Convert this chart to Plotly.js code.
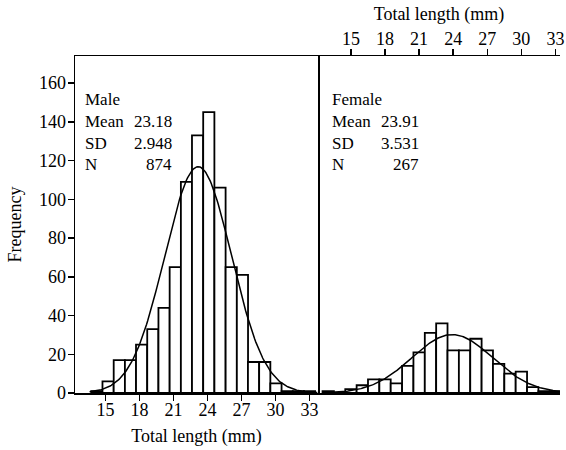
<!DOCTYPE html>
<html>
<head>
<meta charset="utf-8">
<script src="https://cdn.plot.ly/plotly-3.0.1.min.js"></script>
<style>html,body{margin:0;padding:0;background:#fff;}#chart{width:566px;height:450px;}</style>
</head>
<body>
<div id="chart"></div>
<script>
// ---- Data ----
var maleBins = [14.24, 15.23, 16.22, 17.21, 18.19, 19.18, 20.17, 21.16, 22.15, 23.13,
                24.12, 25.11, 26.10, 27.09, 28.07, 29.06, 30.05, 31.04, 32.03, 33.01];
var maleCounts = [1, 6, 17, 17, 25, 33, 44, 65, 109, 133, 145, 106, 65, 61, 16, 16, 5, 1, 1, 1];
var maleBinWidth = 0.988;
var maleStats = {mean: 23.18, sd: 2.948, n: 874};

var femaleBins = [13, 14, 15, 16, 17, 18, 19, 20, 21, 22, 23, 24, 25, 26, 27, 28, 29, 30, 31, 32, 33];
var femaleCounts = [1, 0, 2, 4, 7, 7, 5, 14, 21, 31, 36, 22, 22, 28, 22, 15, 10, 11, 3, 1, 1];
var femaleBinWidth = 1.0;
var femaleStats = {mean: 23.91, sd: 3.531, n: 267};

var tickVals = [15, 18, 21, 24, 27, 30, 33];
var yTicks = [0, 20, 40, 60, 80, 100, 120, 140, 160];
var labelRows = ["Mean", "SD", "N"];

// ---- Fitted normal curves (from the printed mean, SD and N) ----
function normalCurve(st, bw, x0, x1) {
  var xs = [], ys = [];
  var steps = 200;
  for (var i = 0; i <= steps; i++) {
    var x = x0 + (x1 - x0) * i / steps;
    var z = (x - st.mean) / st.sd;
    xs.push(x);
    ys.push(st.n * bw / (st.sd * Math.sqrt(2 * Math.PI)) * Math.exp(-0.5 * z * z));
  }
  return {x: xs, y: ys};
}
var mc = normalCurve(maleStats, maleBinWidth, 13.6, 33.7);
var fc = normalCurve(femaleStats, femaleBinWidth, 12.9, 33.4);

var FONT = "'Liberation Serif', 'Times New Roman', serif";
var barStyle = {color: "#ffffff", line: {color: "#000000", width: 1.8}};

var traces = [
  {type: "bar", x: maleBins, y: maleCounts, width: maleBins.map(function(){return maleBinWidth;}),
   marker: barStyle, xaxis: "x", yaxis: "y", hoverinfo: "x+y"},
  {type: "scatter", mode: "lines", x: mc.x, y: mc.y, line: {color: "#000", width: 1.5},
   xaxis: "x", yaxis: "y", hoverinfo: "skip"},
  {type: "bar", x: femaleBins, y: femaleCounts, width: femaleBins.map(function(){return femaleBinWidth;}),
   marker: barStyle, xaxis: "x2", yaxis: "y", hoverinfo: "x+y"},
  {type: "scatter", mode: "lines", x: fc.x, y: fc.y, line: {color: "#000", width: 1.5},
   xaxis: "x2", yaxis: "y", hoverinfo: "skip"}
];

// plot area in pixels: x 75..560, y 56..393
var L = 75, R = 560, T = 56, B = 393;
function px(x) { return (x - L) / (R - L); }
function py(y) { return (B - y) / (B - T); }
var split = px(318);

function statAnnotations(title, st, xLeft, xRight) {
  var vals = [st.mean.toFixed(2), st.sd.toFixed(3), String(st.n)];
  var rowsY = [100, 121, 143, 164];
  var out = [{text: title, x: px(xLeft), y: py(rowsY[0]), xanchor: "left"}];
  for (var i = 0; i < labelRows.length; i++) {
    out.push({text: labelRows[i], x: px(xLeft), y: py(rowsY[i + 1]), xanchor: "left"});
    out.push({text: vals[i], x: px(xRight), y: py(rowsY[i + 1]), xanchor: "right"});
  }
  return out.map(function(a) {
    a.xref = "paper"; a.yref = "paper"; a.yanchor = "middle"; a.showarrow = false;
    a.font = {family: FONT, size: 17, color: "#000"};
    return a;
  });
}
var annotations = statAnnotations("Male", maleStats, 83, 174)
  .concat(statAnnotations("Female", femaleStats, 330, 421));

var axisCommon = {
  showgrid: false, zeroline: false, showline: true, linecolor: "#000", linewidth: 1.5,
  ticks: "outside", ticklen: 6, tickwidth: 1.5, tickcolor: "#000",
  tickfont: {family: FONT, size: 18, color: "#000"}
};

var layout = {
  width: 566, height: 450,
  margin: {l: L, r: 566 - R, t: T, b: 450 - B, pad: 0},
  paper_bgcolor: "#fff", plot_bgcolor: "#fff",
  showlegend: false, bargap: 0, barmode: "overlay",
  font: {family: FONT, color: "#000"},
  xaxis: Object.assign({}, axisCommon, {
    domain: [0, split], range: [12.31, 33.76], anchor: "y",
    tickmode: "array", tickvals: tickVals, mirror: true, ticklabelstandoff: -6,
    title: {text: "Total length (mm)", font: {family: FONT, size: 18, color: "#000"}, standoff: 10}
  }),
  xaxis2: Object.assign({}, axisCommon, {
    domain: [split, 1], range: [12.1, 33.4], anchor: "y", side: "top",
    tickmode: "array", tickvals: tickVals, mirror: true, ticklabelstandoff: -4,
    title: {text: "Total length (mm)", font: {family: FONT, size: 18, color: "#000"}, standoff: 4}
  }),
  yaxis: Object.assign({}, axisCommon, {
    range: [0, 174], anchor: "x", mirror: true,
    tickmode: "array", tickvals: yTicks, ticklabelstandoff: -2,
    title: {text: "Frequency", font: {family: FONT, size: 18, color: "#000"}, standoff: 12}
  }),
  annotations: annotations
};

Plotly.newPlot("chart", traces, layout, {displayModeBar: false, staticPlot: true});
</script>
</body>
</html>
